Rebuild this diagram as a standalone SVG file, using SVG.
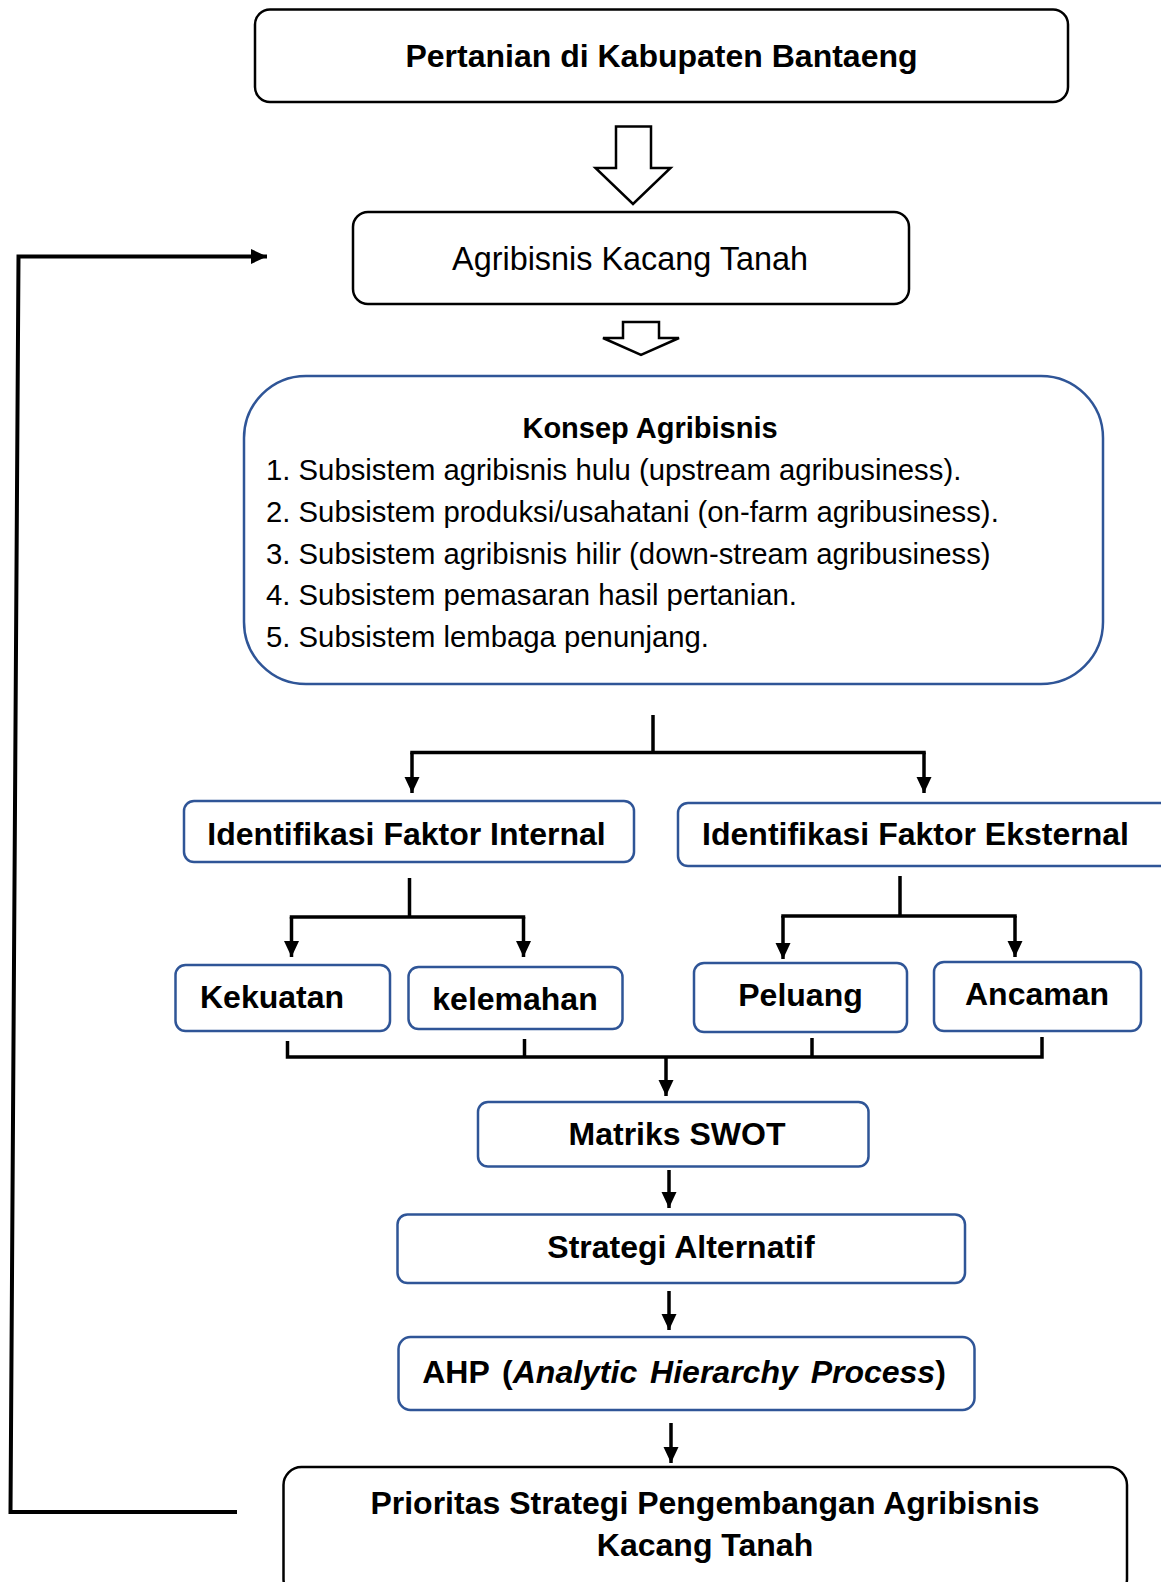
<svg xmlns="http://www.w3.org/2000/svg" width="1161" height="1582" viewBox="0 0 1161 1582">
<defs>
<style>
.bk{fill:#fff;stroke:#000;stroke-width:2.5}
.bl{fill:#fff;stroke:#2F5597;stroke-width:2.5}
.ho{fill:#fff;stroke:#000;stroke-width:2.5;stroke-linejoin:miter}
.t{font-family:"Liberation Sans",Arial,sans-serif;fill:#000}
.b{font-weight:bold;font-size:32px}
.r{font-size:29.3px}
.c{text-anchor:middle}
.ln{fill:none;stroke:#000;stroke-width:3.5}
.fb{fill:none;stroke:#000;stroke-width:4}
</style>
<marker id="ah" markerUnits="userSpaceOnUse" markerWidth="16" markerHeight="16" viewBox="0 0 16 15" refX="16" refY="7.5" orient="auto">
<path d="M0,0 L16,7.5 L0,15 z" fill="#000"/>
</marker>
</defs>

<g id="n-pertanian">
<rect class="bk" x="255" y="9.5" width="813" height="92.5" rx="15"/>
<text class="t b c" x="661.5" y="67">Pertanian di Kabupaten Bantaeng</text>
</g>

<g id="n-agribisnis">
<rect class="bk" x="353" y="212" width="556" height="92" rx="15"/>
<text class="t c" x="630" y="270" font-size="32.4">Agribisnis Kacang Tanah</text>
</g>

<g id="n-konsep">
<rect class="bl" x="244" y="376" width="859" height="308" rx="62"/>
<text class="t c" x="650" y="438" font-size="29" font-weight="bold">Konsep Agribisnis</text>
<text class="t r" x="266" y="480">1. Subsistem agribisnis hulu (upstream agribusiness).</text>
<text class="t r" x="266" y="522">2. Subsistem produksi/usahatani (on-farm agribusiness).</text>
<text class="t r" x="266" y="564">3. Subsistem agribisnis hilir (down-stream agribusiness)</text>
<text class="t r" x="266" y="605">4. Subsistem pemasaran hasil pertanian.</text>
<text class="t r" x="266" y="647">5. Subsistem lembaga penunjang.</text>
</g>

<g id="n-internal">
<rect class="bl" x="184" y="801" width="450" height="61" rx="10"/>
<text class="t b c" x="406.5" y="845">Identifikasi Faktor Internal</text>
</g>

<g id="n-eksternal">
<rect class="bl" x="678" y="803" width="495" height="63" rx="10"/>
<text class="t b c" x="915.5" y="845">Identifikasi Faktor Eksternal</text>
</g>

<g id="n-kekuatan">
<rect class="bl" x="175.5" y="965" width="214.5" height="66" rx="10"/>
<text class="t b" x="200" y="1008">Kekuatan</text>
</g>

<g id="n-kelemahan">
<rect class="bl" x="408.5" y="967" width="214" height="62" rx="10"/>
<text class="t b c" x="515" y="1010">kelemahan</text>
</g>

<g id="n-peluang">
<rect class="bl" x="694" y="963" width="213" height="69" rx="10"/>
<text class="t b c" x="800.5" y="1006">Peluang</text>
</g>

<g id="n-ancaman">
<rect class="bl" x="934" y="962" width="207" height="69" rx="10"/>
<text class="t b c" x="1037" y="1005">Ancaman</text>
</g>

<g id="n-swot">
<rect class="bl" x="478" y="1102" width="390.5" height="64.5" rx="10"/>
<text class="t b c" x="677" y="1145">Matriks SWOT</text>
</g>

<g id="n-strategi">
<rect class="bl" x="397.5" y="1214.5" width="567.5" height="68.5" rx="10"/>
<text class="t b c" x="681" y="1258">Strategi Alternatif</text>
</g>

<g id="n-ahp">
<rect class="bl" x="398.5" y="1337" width="576" height="73" rx="12"/>
<text class="t b c" x="684" y="1383" word-spacing="4">AHP (<tspan font-style="italic">Analytic Hierarchy Process</tspan>)</text>
</g>

<g id="n-prioritas">
<rect class="bk" x="283.5" y="1467" width="843.5" height="130" rx="18"/>
<text class="t b c" x="705" y="1514">Prioritas Strategi Pengembangan Agribisnis</text>
<text class="t b c" x="705" y="1556">Kacang Tanah</text>
</g>

<g id="connectors">
<path class="ho" d="M616,126.5 L651,126.5 L651,168 L670.5,168 L633,204 L595.5,168 L616,168 Z"/>
<path class="ho" d="M623,322 L659,322 L659,338 L679,338 L641,355 L603,338 L623,338 Z"/>

<line class="ln" x1="653" y1="715" x2="653" y2="753"/>
<line class="ln" x1="410.25" y1="752.5" x2="925.75" y2="752.5"/>
<line class="ln" x1="412" y1="752.5" x2="412" y2="793" marker-end="url(#ah)"/>
<line class="ln" x1="924" y1="752.5" x2="924" y2="793" marker-end="url(#ah)"/>

<line class="ln" x1="409.5" y1="878" x2="409.5" y2="917"/>
<line class="ln" x1="289.75" y1="917" x2="525.25" y2="917"/>
<line class="ln" x1="291.5" y1="917" x2="291.5" y2="957" marker-end="url(#ah)"/>
<line class="ln" x1="523.5" y1="917" x2="523.5" y2="957" marker-end="url(#ah)"/>

<line class="ln" x1="900" y1="876" x2="900" y2="916"/>
<line class="ln" x1="781.25" y1="916" x2="1016.75" y2="916"/>
<line class="ln" x1="783" y1="916" x2="783" y2="959" marker-end="url(#ah)"/>
<line class="ln" x1="1015" y1="916" x2="1015" y2="957" marker-end="url(#ah)"/>

<polyline class="ln" points="287.5,1041 287.5,1057 1042,1057 1042,1037"/>
<line class="ln" x1="524.5" y1="1039" x2="524.5" y2="1057"/>
<line class="ln" x1="812" y1="1038" x2="812" y2="1057"/>
<line class="ln" x1="666" y1="1057" x2="666" y2="1096" marker-end="url(#ah)"/>

<line class="ln" x1="669" y1="1170" x2="669" y2="1208" marker-end="url(#ah)"/>
<line class="ln" x1="669" y1="1291" x2="669" y2="1330" marker-end="url(#ah)"/>
<line class="ln" x1="671" y1="1423" x2="671" y2="1463" marker-end="url(#ah)"/>

<polyline class="fb" points="237,1512 10.5,1512 18.5,256.5 267,256.5" marker-end="url(#ah)"/>
</g>
</svg>
